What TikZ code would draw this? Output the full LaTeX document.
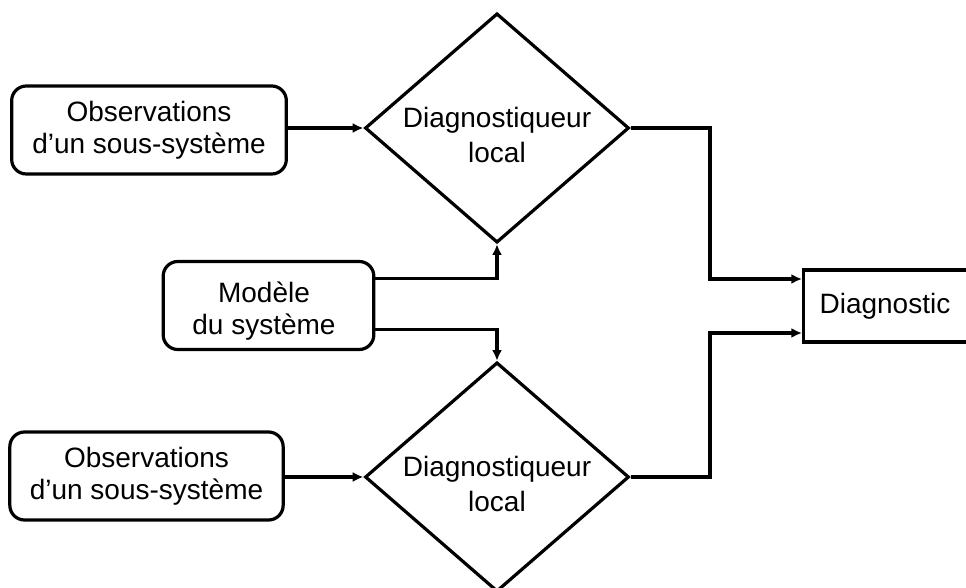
\documentclass[tikz,border=0pt]{standalone}
\usepackage{fontspec}
\setmainfont{Liberation Sans}
\usepackage{tikz}
\usetikzlibrary{shapes.geometric, positioning, calc, arrows.meta}
\tikzset{
    obsbox/.style={
        draw, rounded corners=11pt, line width=2.4pt, align=center,
        minimum width=206pt, minimum height=66pt, inner sep=0pt,
        font=\fontsize{21}{24}\selectfont
    },
    losange/.style={
        diamond, draw, line width=2.4pt, minimum width=198pt,
        minimum height=172pt, inner sep=0pt
    },
    losangetext/.style={
        align=center, inner sep=0pt, font=\fontsize{21}{26.5}\selectfont
    },
    ptr/.style={
        -{Latex[length=8pt, width=7.5pt]}, line width=2.4pt
    }
}

\begin{document}
\begin{tikzpicture}[
        x=0.75pt, y=-0.75pt,
        font=\fontsize{21}{25}\selectfont
    ]

        \path[use as bounding box, clip] (0,0) rectangle (966,588);

        % ======================================
        % ENTREES (A GAUCHE)
        % ======================================
        \node[obsbox] (obs1) at (149,130) {Observations\\d’un sous-système};
        \node[obsbox, minimum width=158pt] (modele) at (268.5,305.5) {};
        \node[align=center, inner sep=0pt, font=\fontsize{21}{24}\selectfont]
            (modeletxt) at (264,311) {Modèle\\du système};
        \node[obsbox, minimum width=205pt] (obs2) at (146.5,476) {Observations\\d’un sous-système};

        % ======================================
        % DIAGNOSTIQUEURS LOCAUX
        % ======================================
        \node[losange] (diag1) at (497,128) {};
        \node[losangetext, yshift=-5pt] (diag1txt) at (diag1.center) {Diagnostiqueur\\local};
        \node[losange] (diag2) at (497,477) {};
        \node[losangetext, yshift=-5pt] (diag2txt) at (diag2.center) {Diagnostiqueur\\local};

        % ======================================
        % DIAGNOSTIC (A DROITE)
        % ======================================
        \node[draw, line width=2.4pt, anchor=west, minimum width=135pt,
              minimum height=54pt, inner xsep=12pt, text width=111pt,
              align=left] (diagnostic) at (802,306) {Diagnostic};

        \coordinate (bus) at (710,0);
        \coordinate (in1) at ($(diagnostic.west)+(0,-27)$);
        \coordinate (in2) at ($(diagnostic.west)+(0,27)$);

        % Observations vers diagnostiqueurs
        \draw[ptr] (obs1.east |- diag1.west) -- (diag1.west);
        \draw[ptr] (obs2.east |- diag2.west) -- (diag2.west);

        % Modele vers les deux diagnostiqueurs
        \draw[ptr] ($(modele.east)+(0,-27)$) -| (diag1.south);
        \draw[ptr] ($(modele.east)+(0,24)$) -| (diag2.north);

        % Diagnostiqueurs vers diagnostic
        \draw[ptr] (diag1.east) -- (diag1.east -| bus) |- (in1);
        \draw[ptr] (diag2.east) -- (diag2.east -| bus) |- (in2);

    \end{tikzpicture}
\end{document}
